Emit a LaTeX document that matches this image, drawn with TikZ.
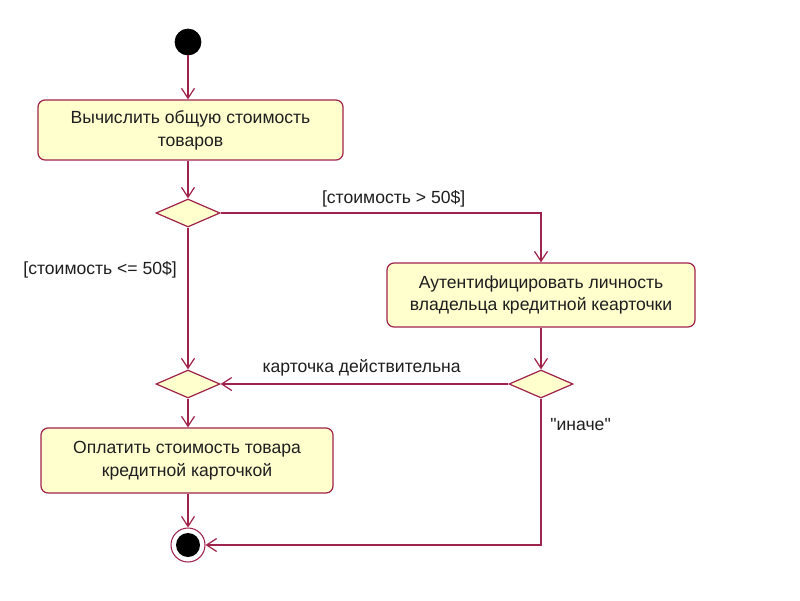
\documentclass[tikz,border=0pt]{standalone}
\usepackage{fontspec}
\setmainfont{Liberation Sans}[Ligatures=TeXOff]
\usetikzlibrary{arrows.meta, positioning, shapes.geometric}
\definecolor{flowcol}{RGB}{160, 35, 75}
\definecolor{actcol}{RGB}{255, 255, 206}
\definecolor{textcol}{RGB}{30, 30, 30}
\tikzset{
  act/.style    = {draw=flowcol, fill=actcol, rounded corners=4pt, align=center,
                   font=\fontsize{10}{13}\selectfont, text=textcol, line width=0.7pt},
  choice/.style = {draw=flowcol, fill=actcol, diamond, inner sep=0pt,
                   minimum width=1.28cm, minimum height=0.56cm, line width=0.7pt},
  initial/.style = {circle, fill=black, draw=black, minimum size=0.52cm, inner sep=0pt},
  final/.style  = {circle, draw=flowcol, fill=white, minimum size=0.68cm,
                   inner sep=0pt, line width=0.6pt},
  guard/.style  = {font=\fontsize{10}{13}\selectfont, text=textcol, inner sep=1pt},
  flow/.style   = {-{Straight Barb[length=2mm, width=2.6mm]}, draw=flowcol,
                   line width=0.7pt},
}

\begin{document}
\begin{tikzpicture}
  \useasboundingbox (0,0) rectangle (16,-12);

  %% ---------------- nodes ----------------
  \node[initial] (start) at (3.76,-0.84) {};
  \node[act, minimum width=6.1cm, minimum height=1.2cm] (total) at (3.81,-2.6)
       {Вычислить общую стоимость\\товаров};
  \node[choice] (check) at (3.76,-4.26) {};
  \node[act, minimum width=6.16cm, minimum height=1.28cm] (auth) at (10.82,-5.9)
       {Аутентифицировать личность\\владельца кредитной кеарточки};
  \node[choice] (valid) at (10.82,-7.68) {};
  \node[choice] (merge) at (3.76,-7.68) {};
  \node[act, minimum width=5.84cm, minimum height=1.3cm] (pay) at (3.74,-9.21)
       {Оплатить стоимость товара\\кредитной карточкой};
  \node[final] (stop) at (3.76,-10.9) {};
  \fill (stop) circle (0.24);

  %% ---------------- transitions ----------------
  \draw[flow] (start) -- (start |- total.north);
  \draw[flow] (check |- total.south) -- (check);
  \draw[flow] (check.east) -| node[guard, above=2pt, pos=0.27] {[стоимость > 50\$]}
       (valid |- auth.north);
  \draw[flow] (check.south) -- node[guard, left=5pt, pos=0.3] {[стоимость <= 50\$]}
       (merge.north);
  \draw[flow] (valid |- auth.south) -- (valid.north);
  \draw[flow] (valid.west) -- node[guard, above=3pt, pos=0.51] {карточка действительна}
       (merge.east);
  \draw[flow] (merge.south) -- (merge |- pay.north);
  \draw[flow] (merge |- pay.south) -- (stop.north);
  \draw[flow] (valid.south) |- node[guard, right=4pt, pos=0.09] {"иначе"}
       (stop.east);

\end{tikzpicture}
\end{document}
